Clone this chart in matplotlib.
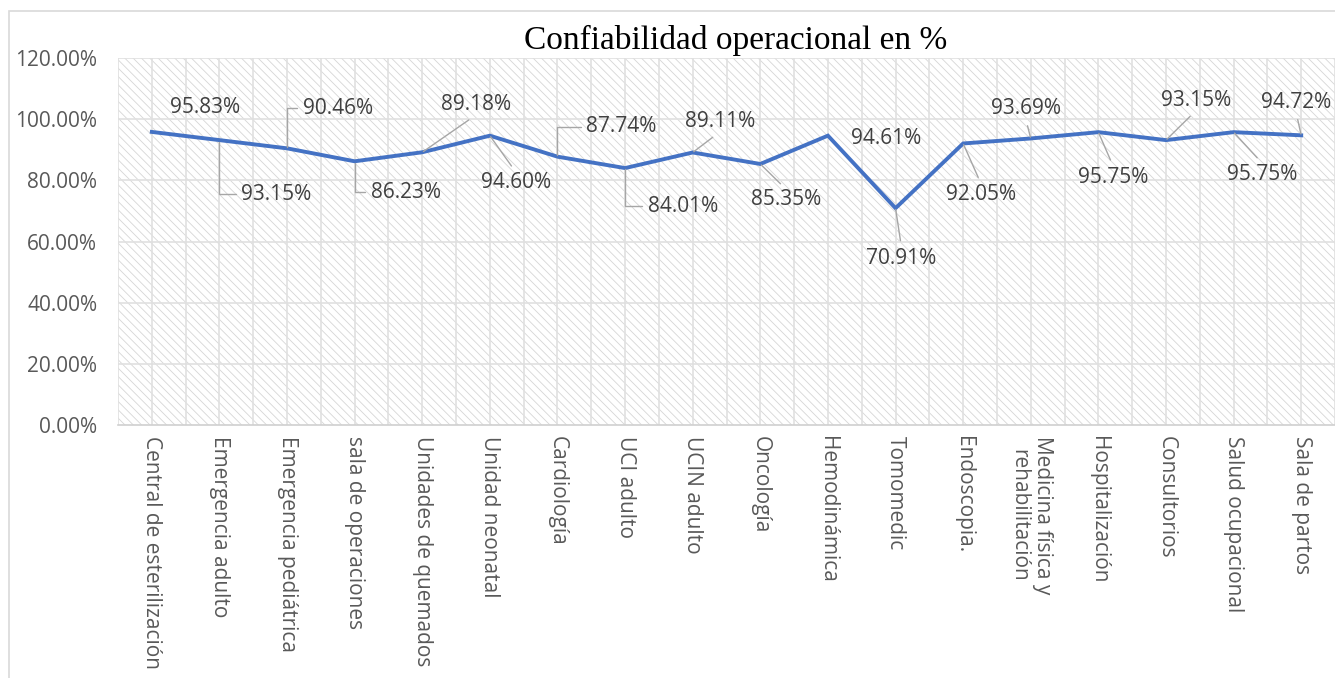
import matplotlib
matplotlib.use("Agg")
import matplotlib.pyplot as plt
from matplotlib.patches import Rectangle
from matplotlib.ticker import FuncFormatter

# datos
servicios = ["Central de esterilización", "Emergencia adulto", "Emergencia pediátrica",
             "sala de operaciones", "Unidades de quemados", "Unidad neonatal", "Cardiología",
             "UCI adulto", "UCIN adulto", "Oncología", "Hemodinámica", "Tomomedic",
             "Endoscopia.", "Medicina física y\nrehabilitación", "Hospitalización",
             "Consultorios", "Salud ocupacional", "Sala de partos"]
confiabilidad = [95.83, 93.15, 90.46, 86.23, 89.18, 94.60, 87.74, 84.01, 89.11,
                 85.35, 94.61, 70.91, 92.05, 93.69, 95.75, 93.15, 95.75, 94.72]
y_ticks = [0, 20, 40, 60, 80, 100, 120]

# posicion de etiquetas (pixeles desde el punto) y tipo de guia
offsets = [(53, 24), (57, -54), (51, 40), (51, -31), (54, 48), (26, -47), (64, 30),
           (58, -38), (27, 31), (26, -36), (58, -3), (6, -50), (18, -51), (-5, 30),
           (15, -45), (30, 40), (29, -42), (-5, 33)]
guia = ["none", "elbow", "elbow", "elbow", "line", "line", "elbow", "elbow", "line",
        "line", "none", "line", "line", "line", "line", "line", "line", "line"]

plt.rcParams['font.family'] = ['Open Sans', 'DejaVu Sans']
plt.rcParams['hatch.linewidth'] = 0.6

fig = plt.figure(figsize=(13.35, 6.78), dpi=100)
ax = fig.add_axes([0.0884, 0.373, 0.9116, 0.5415])

x = list(range(len(servicios)))
ax.set_xlim(-0.5, len(servicios) - 0.5)
ax.set_ylim(0, 120)

# fondo rayado
ax.add_patch(Rectangle((0, 0), 1, 1, transform=ax.transAxes, facecolor="white",
                       edgecolor="#d6d6d6", hatch="\\\\\\\\", lw=0, zorder=0))
for gx in [i * 0.5 - 0.5 for i in range(2 * len(servicios) + 1)]:
    ax.axvline(gx, color="#e0e0e0", lw=1.2, zorder=1)
for gy in y_ticks[1:]:
    ax.axhline(gy, color="#e0e0e0", lw=1.2, zorder=1)

ax.plot(x, confiabilidad, color="#4472C4", lw=2.8, zorder=3, solid_joinstyle="miter")

for i, (v, (dx, dy), g) in enumerate(zip(confiabilidad, offsets, guia)):
    props = None
    if g == "elbow":
        props = dict(arrowstyle="-", color="#a6a6a6", lw=1.0, shrinkA=2, shrinkB=1,
                     relpos=(0, 0.5), connectionstyle="angle,angleA=0,angleB=90,rad=0")
    elif g == "line":
        rp = (0.5, 0) if dy > 0 else (0.5, 1)
        props = dict(arrowstyle="-", color="#a6a6a6", lw=1.0, shrinkA=3, shrinkB=1, relpos=rp)
    ax.annotate("%.2f%%" % v, xy=(i, v), xytext=(dx, dy), textcoords="offset pixels",
                ha="center", va="center", fontsize=15, color="#404040",
                arrowprops=props, zorder=4)

ax.set_xticks(x)
ax.set_xticklabels(servicios)
plt.setp(ax.get_xticklabels(), rotation=-90, ha="left", va="center",
         rotation_mode="anchor", multialignment="center")
ax.set_yticks(y_ticks)
ax.yaxis.set_major_formatter(FuncFormatter(lambda v, p: "%.2f%%" % v))
ax.tick_params(axis="both", length=0, labelsize=15, labelcolor="#595959")
ax.tick_params(axis="x", pad=8)
ax.tick_params(axis="y", pad=15)
for s in ["top", "right", "left"]:
    ax.spines[s].set_visible(False)
ax.spines["bottom"].set_color("#d0d0d0")
ax.spines["bottom"].set_linewidth(1.2)

fig.text(0.551, 0.941, "Confiabilidad operacional en %", ha="center", va="center",
         fontsize=24, family="Liberation Serif", color="black")

# marco del grafico
fig.add_artist(Rectangle((0.0067, -0.01), 1.2, 0.994, transform=fig.transFigure,
                         fill=False, edgecolor="#d9d9d9", lw=1.2))

fig.savefig("out.png", dpi=100)
